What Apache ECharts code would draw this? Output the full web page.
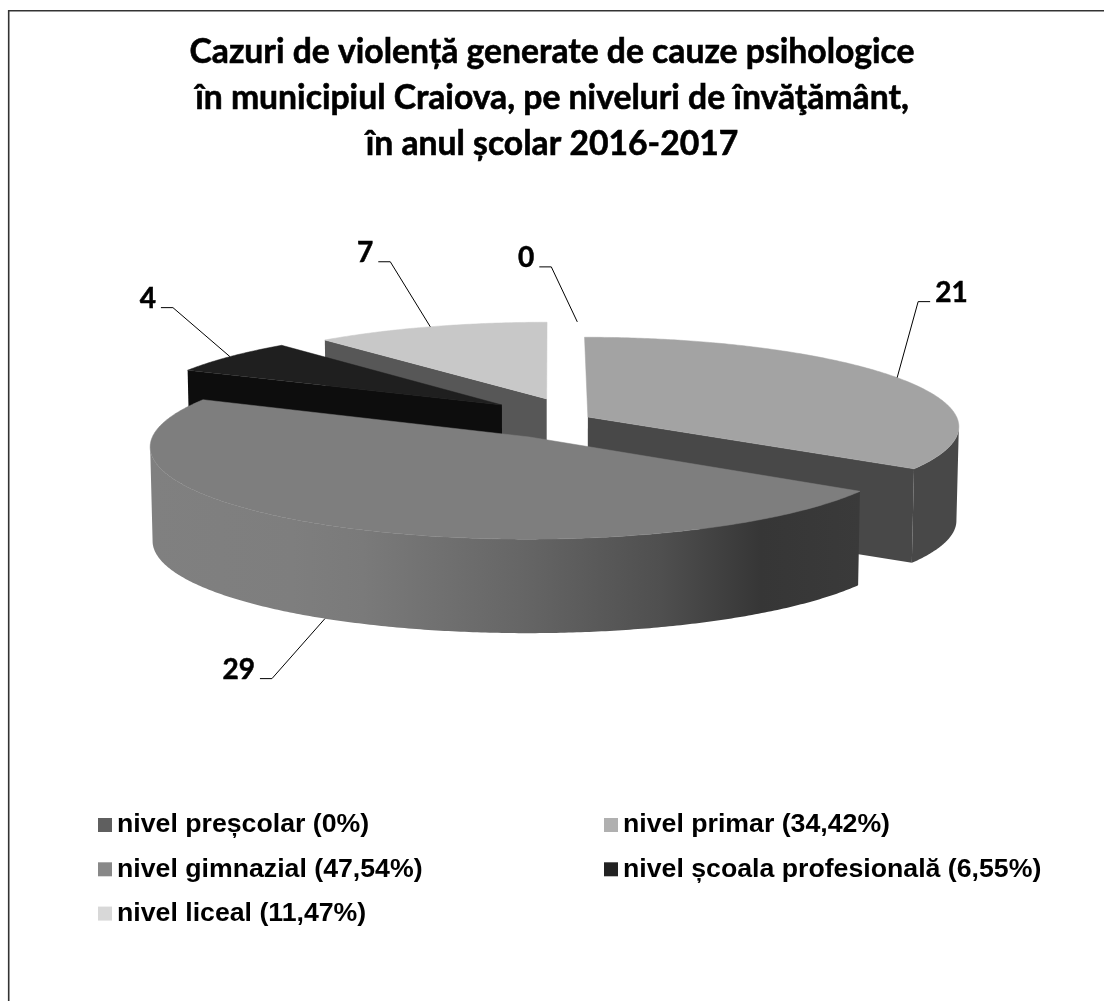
<!DOCTYPE html>
<html><head><meta charset="utf-8">
<style>html,body{margin:0;padding:0;background:#fff}#c{width:1104px;height:1001px}</style>
<script src="https://cdn.jsdelivr.net/npm/echarts@6/dist/echarts.min.js"></script>
</head><body><div id="c"></div>
<script>
const categories = ['nivel preșcolar (0%)','nivel primar (34,42%)','nivel gimnazial (47,54%)','nivel școala profesională (6,55%)','nivel liceal (11,47%)'];
const values = [0,21,29,4,7];
const legendColors = ['#5f5f5f','#b0b0b0','#888888','#222222','#d8d8d8'];
const topColors = ['#5f5f5f','#a3a3a3','#7e7e7e','#1f1f1f','#c8c8c8'];
const sideColors = ['#484848','#484848','#666666','#0d0d0d','#575757'];
const explodeX = [0.08,0.1,-0.057,-0.135,-0.012];
const explodeY = [0.25,0.034,-0.189,0.173,0.245];
const elbowDx = [-26,21,-53,-57,-40];
const elbowDy = [-55,-76,60,-49,-65];
const drawOrder = [0,4,3,1,2];
const titleText = 'Cazuri de violență generate de cauze psihologice\nîn municipiul Craiova, pe niveluri de învăţământ,\nîn anul școlar 2016-2017';

const CX=551, CY=420, RX=370, RY=88.3, K=0.1, H=94, LEAN=0.994;
const total = values.reduce((a,b)=>a+b,0);
const starts=[]; values.reduce((a,v,i)=>{starts[i]=a;return a+v;},0);

function rim(i,theta){
  const u=Math.sin(theta)+explodeX[i], v=Math.cos(theta)+explodeY[i];
  const s=1/(1+K*v);
  return [CX+RX*u*s, CY-RY*v*s];
}
function apex(i){
  const u=explodeX[i], v=explodeY[i], s=1/(1+K*v);
  return [CX+RX*u*s, CY-RY*v*s];
}
function low(p){return [CX+(p[0]-CX)*LEAN,p[1]+H];}

function renderSlice(params,api){
  const i=categories.indexOf(params.seriesName), val=api.value(0);
  const a0=starts[i]/total*2*Math.PI, a1=(starts[i]+val)/total*2*Math.PI;
  const arc=[]; const n=Math.max(1,Math.ceil((a1-a0)/0.01));
  for(let k=0;k<=n;k++) arc.push(rim(i,a0+(a1-a0)*k/n));
  const children=[];
  if(val>0){
    const ap=apex(i), first=arc[0], last=arc[arc.length-1];
    if(Math.sin(a0)<-1e-6) children.push({type:'polygon',shape:{points:[ap,first,low(first),low(ap)]},style:{fill:sideColors[i]}});
    if(Math.sin(a1)>1e-6) children.push({type:'polygon',shape:{points:[ap,last,low(last),low(ap)]},style:{fill:sideColors[i]}});
    const front=arc.filter((p,k)=>k+1<arc.length?arc[k+1][0]<p[0]:arc[k-1][0]>p[0]);
    if(front.length>1){
      const sideFill = i===2 ? new echarts.graphic.LinearGradient(0,0,1,0,[
        {offset:0,color:'#808080'},{offset:.2,color:'#7e7e7e'},{offset:.3,color:'#7a7a7a'},{offset:.52,color:'#666666'},
        {offset:.72,color:'#4f4f4f'},{offset:.86,color:'#363636'},{offset:1,color:'#3a3a3a'}]) : sideColors[i];
      children.push({type:'polygon',shape:{points:front.concat(front.map(low).reverse())},style:{fill:sideFill}});
    }
    children.push({type:'polygon',shape:{points:[ap].concat(arc)},style:{fill:topColors[i],stroke:topColors[i],lineWidth:0.5}});
  }
  const mid=(a0+a1)/2;
  const anchor=rim(i,mid);
  if(i===2){anchor[0]=CX+(anchor[0]-CX)*LEAN;anchor[1]+=H;}
  const elbow=[anchor[0]+elbowDx[i],anchor[1]+elbowDy[i]];
  const dir=elbowDx[i]<0?-1:1;
  const end=[elbow[0]+12*dir,elbow[1]];
  children.push({type:'polyline',shape:{points:[anchor,elbow,end]},style:{fill:null,stroke:'#000',lineWidth:1}});
  children.push({type:'text',style:{text:String(val),x:end[0]+5*dir,y:end[1]-9,
    align:dir<0?'right':'left',verticalAlign:'middle',
    font:'bold 28px Lato, sans-serif',fill:'#000',stroke:'#000',lineWidth:0.5}});
  return {type:'group',children};
}

const series=drawOrder.map(i=>({
  type:'custom',name:categories[i],coordinateSystem:'none',
  data:[[values[i]]],renderItem:renderSlice,itemStyle:{color:legendColors[i]},
  silent:true,animation:false
}));
const legendItem=i=>({name:categories[i],itemStyle:{color:legendColors[i]}});
const legendBase={orient:'vertical',icon:'rect',itemWidth:14,itemHeight:14,itemGap:14.3,selectedMode:false,
  textStyle:{fontFamily:'Liberation Sans',fontWeight:'bold',fontSize:26.7,lineHeight:30,color:'#000'},padding:0};

const chart=echarts.init(document.getElementById('c'),null,{renderer:'canvas'});
chart.setOption({
  animation:false,
  backgroundColor:'#fff',
  title:{text:titleText,left:'center',top:29,padding:0,
    textStyle:{fontFamily:'Lato',fontWeight:'bold',fontSize:33.7,lineHeight:46,color:'#000',align:'center',textBorderColor:'#000',textBorderWidth:0.6}},
  legend:[
    Object.assign({},legendBase,{left:98,top:810,data:[0,2,4].map(legendItem)}),
    Object.assign({},legendBase,{left:604,top:810,data:[1,3].map(legendItem)})
  ],
  graphic:[{type:'polyline',silent:true,shape:{points:[[8.7,1001],[8.7,10.8],[1104,10.8]]},style:{fill:null,stroke:'#333',lineWidth:1.6}}],
  series
});
</script></body></html>
